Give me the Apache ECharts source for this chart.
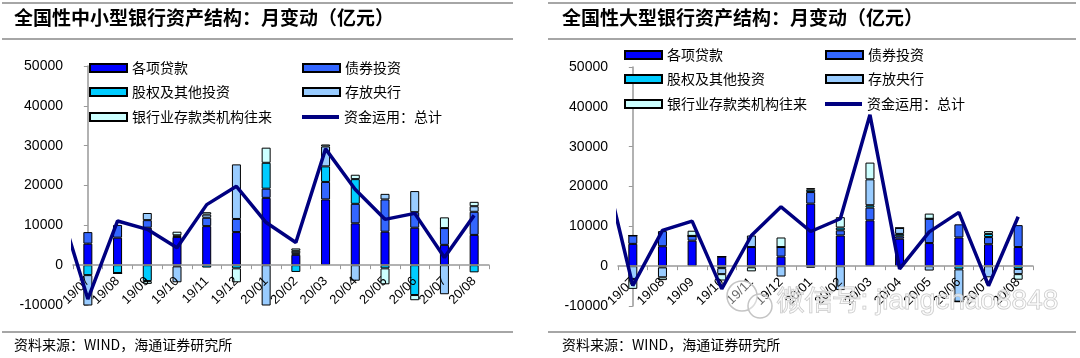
<!DOCTYPE html>
<html>
<head>
<meta charset="utf-8">
<script src="https://cdn.jsdelivr.net/npm/echarts@6/dist/echarts.min.js"></script>
<style>
html,body{margin:0;padding:0;background:#fff;}
#c{width:1080px;height:358px;}
</style>
</head>
<body>
<div id="c"></div>
<script>
// ---- data ----
const categories = ['19/07','19/08','19/09','19/10','19/11','19/12','20/01','20/02','20/03','20/04','20/05','20/06','20/07','20/08'];
const totalMonths = ['19/06','19/07','19/08','19/09','19/10','19/11','19/12','20/01','20/02','20/03','20/04','20/05','20/06','20/07','20/08'];
const seriesNames = ['各项贷款','债券投资','股权及其他投资','存放央行','银行业存款类机构往来','资金运用：总计'];
const yTicks = [-10000, 0, 10000, 20000, 30000, 40000, 50000];

// 全国性中小型银行
const smallLoans     = [5400, 6900, 9400, 7100, 9800, 8300, 16900, 2600, 16500, 10500, 8400, 9400, 5100, 7600];
const smallBonds     = [2900, 3200, 1900, 400, 2100, 3300, 2300, 400, 4400, 4900, 8100, 3900, 4200, 5800];
const smallEquity    = [-2500, -2000, -4000, -300, -600, -800, 6500, -1700, 3900, 6200, -800, -7500, 0, -1800];
const smallCentral   = [-14300, 0, 1800, -4000, 800, 13700, -18000, 600, 5000, -3900, 1400, 5300, -7300, 1400];
const smallInterbank = [0, 0, -700, 900, 600, -3500, 3800, 600, 500, 1100, -4000, -1300, 2700, 1100];
const smallTotal     = [16000, -8500, 11100, 9000, 4400, 15200, 19800, 10700, 5700, 29200, 19000, 11500, 13000, 1900, 12500];

// 全国性大型银行
const largeLoans     = [5600, 5000, 6400, 2400, 4800, 2400, 15700, 7700, 11500, 6900, 5800, 7200, 5500, 4800];
const largeBonds     = [2100, 3800, 1200, 0, 0, 2400, 2900, 1300, 3200, 600, 6100, 3300, 1800, 5500];
const largeEquity    = [0, -300, 0, -500, -300, 0, 600, 700, 600, 600, 0, -800, 800, -700];
const largeCentral   = [-3200, -2500, 0, -1500, 2900, -2600, -400, -6000, 6500, 1500, -1100, -8100, -2800, -1300];
const largeInterbank = [-2500, -700, 1300, -1600, -1000, 2400, 400, 2600, 4200, 0, 1300, 0, 700, -1400];
const largeTotal     = [26200, -4900, 9000, 11300, -5700, 7700, 14900, 8700, 11900, 38000, -700, 8600, 13500, -4900, 12400];

// ---- styles ----
const colors = ['#0000FF', '#3366FF', '#00CCFF', '#99CCFF', '#CCFFFF'];
const lineColor = '#000080';
const cjk = '"Noto Sans CJK SC", sans-serif';
const latin = '"Liberation Sans", Arial, sans-serif';

const panels = [
  {grid: {left: 73, top: 66, width: 416, height: 239}, bars: [smallLoans, smallBonds, smallEquity, smallCentral, smallInterbank], total: smallTotal,
   legendCols: [89, 302], legendRows: [69, 93, 118]},
  {grid: {left: 618, top: 67, width: 415, height: 239}, bars: [largeLoans, largeBonds, largeEquity, largeCentral, largeInterbank], total: largeTotal,
   legendCols: [624, 825], legendRows: [56, 80, 105]}
];

const yMin = yTicks[0], yMax = yTicks[yTicks.length - 1];
const grid = [], xAxis = [], yAxis = [], series = [], legend = [];
panels.forEach((p, pi) => {
  grid.push(Object.assign({containLabel: false}, p.grid));
  const zeroOffset = p.grid.height * (0 - yMin) / (yMax - yMin);
  xAxis.push({
    type: 'category', gridIndex: pi, data: categories, boundaryGap: true,
    position: 'bottom', offset: -zeroOffset,
    axisLine: {onZero: false, lineStyle: {color: '#999', width: 1.5}},
    axisTick: {show: true, length: 4, inside: false, lineStyle: {color: '#999'}},
    axisLabel: {rotate: 45, fontFamily: latin, fontSize: 13, color: '#000', margin: 14, interval: 0},
    splitLine: {show: false}, z: 4
  });
  xAxis.push({
    type: 'value', gridIndex: pi, show: false, min: -0.5, max: categories.length - 0.5,
    splitLine: {show: false}
  });
  yAxis.push({
    type: 'value', gridIndex: pi, min: yMin, max: yMax, interval: 10000,
    axisLine: {show: true, lineStyle: {color: '#999', width: 1.5}},
    axisTick: {show: true, length: 4, lineStyle: {color: '#999'}},
    axisLabel: {fontFamily: latin, fontSize: 14, color: '#000', margin: 10, formatter: v => String(v)},
    splitLine: {show: false}
  });
  p.bars.forEach((arr, si) => {
    series.push({
      name: seriesNames[si], type: 'bar', xAxisIndex: pi * 2, yAxisIndex: pi,
      stack: 'panel' + pi, barWidth: 9, data: arr,
      itemStyle: {color: colors[si], borderColor: '#000', borderWidth: 1},
      emphasis: {disabled: true}, animation: false, z: 3
    });
  });
  series.push({
    name: seriesNames[5], type: 'line', xAxisIndex: pi * 2 + 1, yAxisIndex: pi,
    data: p.total.map((v, i) => [i - 1, v]), clip: true,
    symbol: 'none', showSymbol: false,
    lineStyle: {color: lineColor, width: 3.5}, itemStyle: {color: lineColor},
    emphasis: {disabled: true}, animation: false, z: 5
  });
  // legends: 2 columns x 3 rows
  seriesNames.forEach((nm, k) => {
    const col = k % 2, row = Math.floor(k / 2);
    const lg = {
      data: [nm], left: p.legendCols[col], top: p.legendRows[row] - 8,
      padding: 0, itemWidth: 37, itemHeight: 8, icon: 'rect', selectedMode: false,
      textStyle: {fontFamily: cjk, fontSize: 14, color: '#000'}
    };
    if (k === 5) {
      lg.itemHeight = 4;
      lg.data = [{name: nm, icon: 'rect', itemStyle: {color: lineColor, borderWidth: 0}}];
    }
    legend.push(lg);
  });
});

const graphic = [];
const rules = [[2, 513], [548, 1076]];
rules.forEach(([x1, x2]) => {
  [3, 39, 332].forEach(y => {
    graphic.push({type: 'line', shape: {x1: x1, y1: y, x2: x2, y2: y}, style: {stroke: '#888', lineWidth: 1.5}, silent: true});
  });
});
const titles = [['全国性中小型银行资产结构：月变动（亿元）', 14], ['全国性大型银行资产结构：月变动（亿元）', 562]];
titles.forEach(([t, x]) => {
  graphic.push({type: 'text', left: x, top: 8, style: {text: t, font: 'bold 19px ' + cjk, fill: '#000'}, silent: true});
});
[14, 562].forEach(x => {
  graphic.push({type: 'text', left: x, top: 338, style: {text: '资料来源：WIND，海通证券研究所', font: '14px ' + cjk, fill: '#000'}, silent: true});
});
// watermark
graphic.push({type: 'text', left: 776, top: 287, z: 100, style: {text: '微信号: jiangchao8848', font: '28px ' + latin, fill: 'rgba(255,255,255,0.5)', stroke: '#c4c4c4', lineWidth: 1}, silent: true});
graphic.push({type: 'circle', z: 100, shape: {cx: 742, cy: 296, r: 15}, style: {fill: 'rgba(255,255,255,0.4)', stroke: '#c4c4c4', lineWidth: 1.5}, silent: true});
graphic.push({type: 'circle', z: 100, shape: {cx: 760, cy: 306, r: 12}, style: {fill: 'rgba(255,255,255,0.4)', stroke: '#c4c4c4', lineWidth: 1.5}, silent: true});

const chart = echarts.init(document.getElementById('c'), null, {renderer: 'canvas'});
chart.setOption({
  animation: false, backgroundColor: '#fff',
  grid: grid, xAxis: xAxis, yAxis: yAxis, series: series, legend: legend, graphic: graphic,
  tooltip: {show: false}
});
</script>
</body>
</html>
